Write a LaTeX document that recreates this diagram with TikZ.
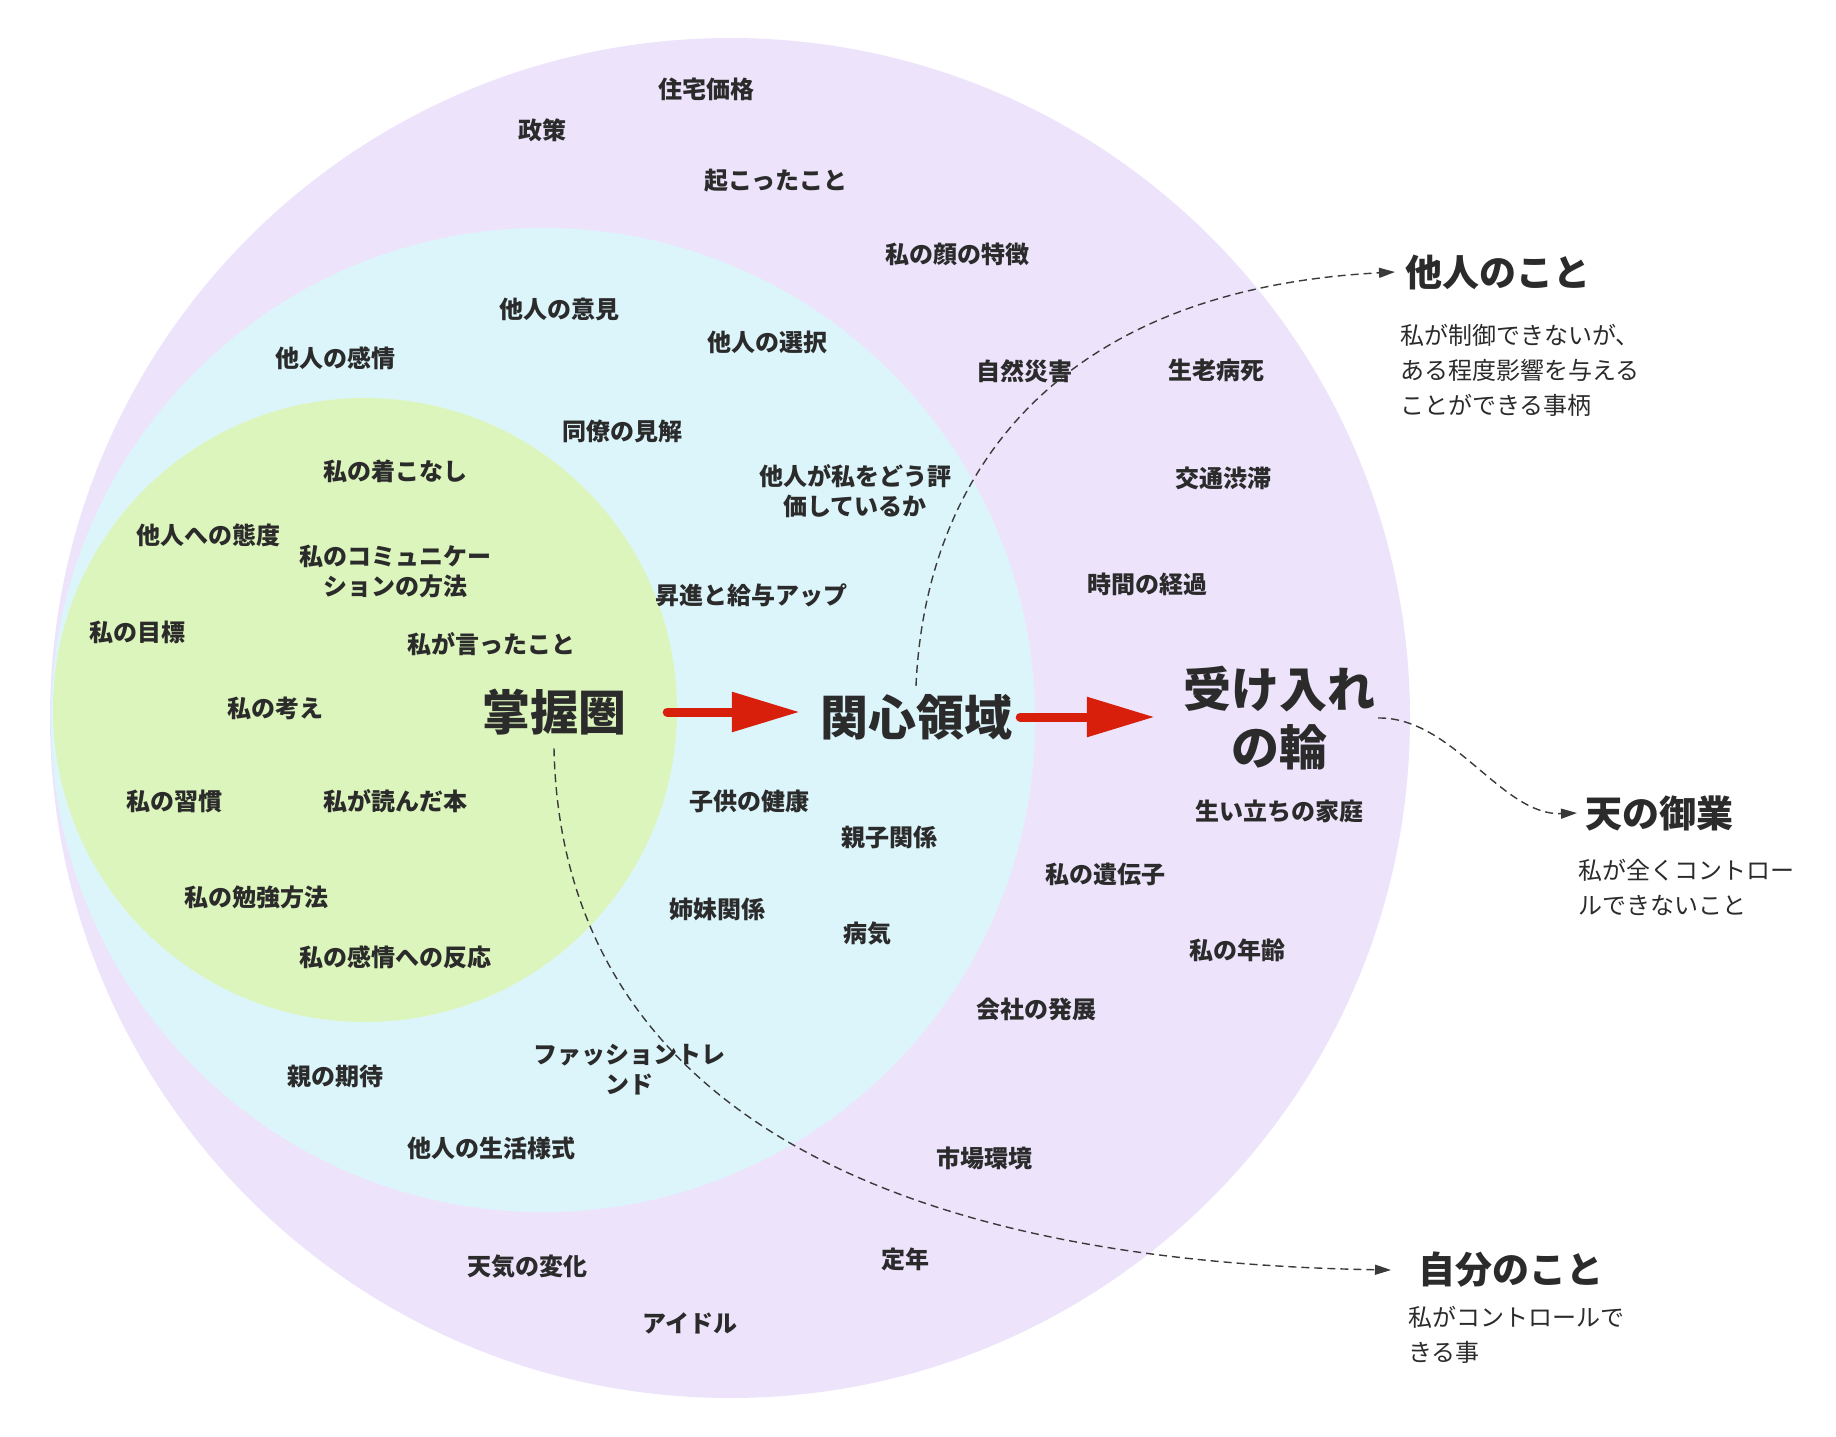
\documentclass[tikz,border=0pt]{standalone}
\usepackage{fontspec}
\setmainfont{Noto Sans CJK JP}
\usetikzlibrary{arrows.meta}
\definecolor{outerc}{HTML}{EDE4FC}
\definecolor{midc}{HTML}{DCF5FB}
\definecolor{innerc}{HTML}{DCF5BC}
\definecolor{txt}{HTML}{2B2B2B}
\definecolor{redarrow}{HTML}{D81F0C}
\definecolor{dashc}{HTML}{3A3A3A}
\begin{document}
\begin{tikzpicture}[x=1pt,y=-1pt,
  item/.style={font=\fontsize{24}{30}\selectfont\bfseries, text=txt, inner sep=0pt, align=center},
  big/.style={font=\fontsize{48}{58}\selectfont\bfseries, text=txt, inner sep=0pt, align=center},
  head/.style={font=\fontsize{37}{44}\selectfont\bfseries, text=txt, inner sep=0pt, anchor=west},
  desc/.style={font=\fontsize{24}{35}\selectfont, text=txt, inner sep=0pt, anchor=west, align=left},
  redarr/.style={draw=redarrow, line width=9pt, line cap=round, -{Triangle[length=68pt,width=38pt]}},
  dasharr/.style={draw=dashc, line width=1.4pt, dash pattern=on 8pt off 5pt, -{Triangle[length=16pt,width=10pt]}}
]
\useasboundingbox (0,0) rectangle (1836,1437);
\fill[white] (0,0) rectangle (1836,1437);
% circles
\fill[outerc] (730,718) circle[radius=680pt];
\fill[midc] (543,720) circle[radius=492pt];
\fill[innerc] (365,710) circle[radius=312pt];

% main labels
\node[big] (shouaku) at (554,712) {掌握圏};
\node[big] (kanshin) at (916,717) {関心領域};
\node[big] (ukeire) at (1279,718) {受け入れ\\の輪};

% items
\node[item] (n1) at (706,89) {住宅価格};
\node[item] (n2) at (542,130) {政策};
\node[item] (n3) at (776,181) {起こったこと};
\node[item] (n4) at (957,254) {私の顔の特徴};
\node[item] (n5) at (559,309) {他人の意見};
\node[item] (n6) at (335,358) {他人の感情};
\node[item] (n7) at (767,342) {他人の選択};
\node[item] (n8) at (1024,371) {自然災害};
\node[item] (n9) at (1216,370) {生老病死};
\node[item] (n10) at (622,431) {同僚の見解};
\node[item] (n11) at (395,471) {私の着こなし};
\node[item] (n12) at (855,491) {他人が私をどう評\\価しているか};
\node[item] (n13) at (1223,478) {交通渋滞};
\node[item] (n14) at (208,535) {他人への態度};
\node[item] (n15) at (395,572) {私のコミュニケー\\ションの方法};
\node[item] (n16) at (1147,584) {時間の経過};
\node[item] (n17) at (751,595) {昇進と給与アップ};
\node[item] (n18) at (137,632) {私の目標};
\node[item] (n19) at (491,644) {私が言ったこと};
\node[item] (n20) at (275,708) {私の考え};
\node[item] (n24) at (174,801) {私の習慣};
\node[item] (n25) at (395,801) {私が読んだ本};
\node[item] (n26) at (749,801) {子供の健康};
\node[item] (n27) at (1279,811) {生い立ちの家庭};
\node[item] (n28) at (889,837) {親子関係};
\node[item] (n29) at (1105,874) {私の遺伝子};
\node[item] (n30) at (256,897) {私の勉強方法};
\node[item] (n31) at (717,909) {姉妹関係};
\node[item] (n32) at (867,934) {病気};
\node[item] (n33) at (1237,950) {私の年齢};
\node[item] (n34) at (395,957) {私の感情への反応};
\node[item] (n35) at (1036,1009) {会社の発展};
\node[item] (n36) at (629,1070) {ファッショントレ\\ンド};
\node[item] (n37) at (335,1076) {親の期待};
\node[item] (n38) at (491,1148) {他人の生活様式};
\node[item] (n39) at (984,1158) {市場環境};
\node[item] (n40) at (527,1267) {天気の変化};
\node[item] (n41) at (905,1259) {定年};
\node[item] (n42) at (690,1323) {アイドル};

% right side headings
\node[head] (tanin) at (1405,272) {他人のこと};
\node[desc] (tanind) at (1400,370) {私が制御できないが、\\ある程度影響を与える\\ことができる事柄};
\node[head] (ten) at (1585,813) {天の御業};
\node[desc] (tend) at (1578,887) {私が全くコントロー\\ルできないこと};
\node[head] (jibun) at (1418,1270) {自分のこと};
\node[desc] (jibund) at (1408,1335) {私がコントロールで\\きる事};

% red arrows
\draw[redarr, shorten <=41pt, shorten >=20pt] (shouaku.east) -- (shouaku.east -| kanshin.west);
\draw[redarr, shorten <=8pt, shorten >=28pt] (kanshin.east) -- (kanshin.east -| ukeire.west);

% dashed connectors
\draw[dasharr] ([yshift=8pt]kanshin.north) .. controls (925,480) and (1050,290) .. ([xshift=-10pt]tanin.west);
\draw[dasharr] ([xshift=3pt]ukeire.east) .. controls (1453,717) and (1502,816) .. ([xshift=-8pt]ten.west);
\draw[dasharr] ([yshift=-13pt]shouaku.south) .. controls (560,1050) and (800,1260) .. ([xshift=-27pt]jibun.west);
\end{tikzpicture}
\end{document}
